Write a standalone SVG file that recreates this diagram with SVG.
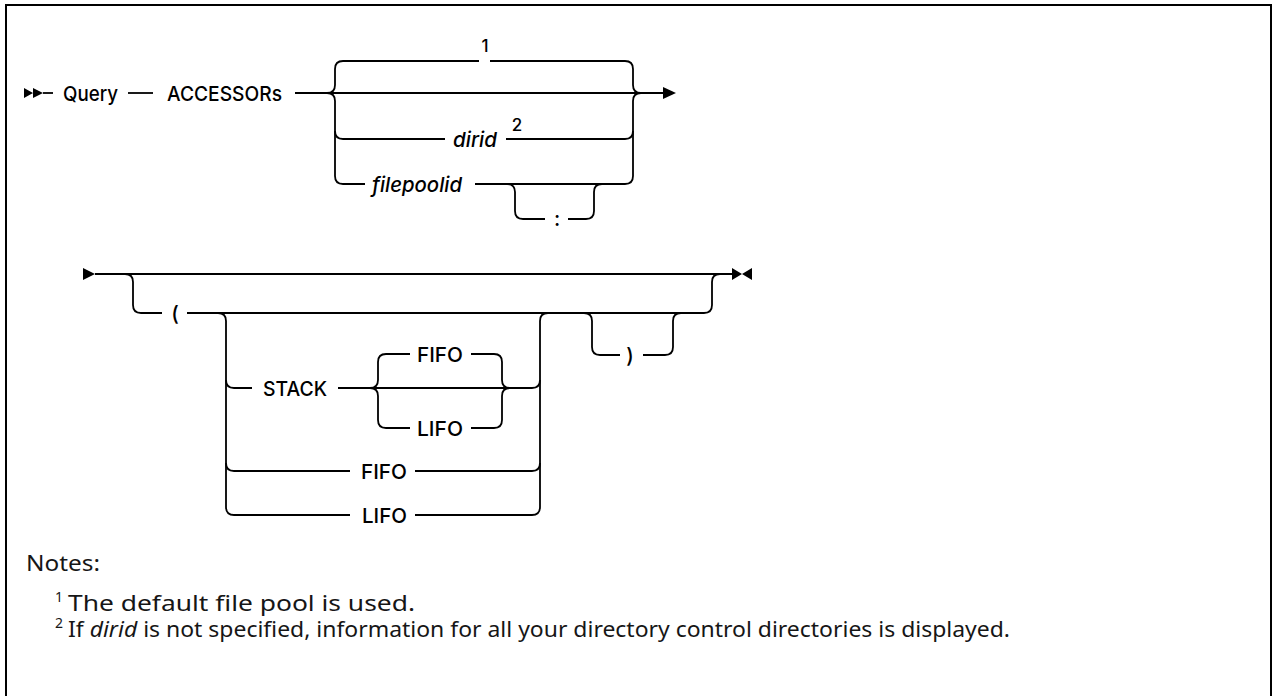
<svg xmlns="http://www.w3.org/2000/svg" width="1273" height="696" viewBox="0 0 1273 696">
<style>
.ln{fill:none;stroke:#000;stroke-width:1.8;stroke-linejoin:round}
.mk{fill:#000;stroke:none}
.lb{font-family:Inter,"Liberation Sans",Arial,sans-serif;font-size:20.5px;font-weight:500;fill:#000}
.it{font-style:italic}
.fn{font-family:Inter,"Liberation Sans",Arial,sans-serif;font-size:17px;font-weight:500;fill:#000}
.nt{font-family:"Noto Sans","Liberation Sans",sans-serif;font-size:21.5px;fill:#161616}
.ns{font-family:"Noto Sans","Liberation Sans",sans-serif;font-size:14px;fill:#161616}
</style>
<rect x="6" y="5" width="1265" height="720" fill="#fff" stroke="#000" stroke-width="2"/>
<g id="connectors">
<path class="mk" d="M24,88 L33,93 L24,98 Z M33,88 L43,93 L33,98 Z"/>
<path class="ln" d="M43,93 H53"/>
<path class="ln" d="M128,93 H153"/>
<path class="ln" d="M295,93 H663"/>
<path class="mk" d="M663,87 L676,93 L663,99 Z"/>
<path class="ln" d="M343,61 Q335,61 335,69 V85 Q335,93 327,93 Q335,93 335,101 V176 Q335,184 343,184"/>
<path class="ln" d="M335,131 Q335,139 343,139 H445"/>
<path class="ln" d="M343,61 H479 M490,61 H625 Q633,61 633,69 V85 Q633,93 641,93 Q633,93 633,101 V176 Q633,184 625,184"/>
<path class="ln" d="M506,139 H625 Q633,139 633,131"/>
<path class="ln" d="M343,184 H365 M475,184 H625"/>
<path class="ln" d="M507,184 Q515,184 515,192 V211 Q515,219 523,219 H545 M568,219 H586 Q594,219 594,211 V192 Q594,184 602,184"/>
<path class="mk" d="M83,268 L95,274 L83,280 Z"/>
<path class="ln" d="M95,274 H732"/>
<path class="ln" d="M125,274 Q133,274 133,282 V305 Q133,313 141,313 H162 M187,313 H704 Q712,313 712,305 V282 Q712,274 720,274"/>
<path class="ln" d="M218,313 Q226,313 226,321 V507 Q226,515 234,515 H350"/>
<path class="ln" d="M226,380 Q226,388 234,388 H252"/>
<path class="ln" d="M226,463 Q226,471 234,471 H350"/>
<path class="ln" d="M338,388 H532 Q540,388 540,380"/>
<path class="ln" d="M548,313 Q540,313 540,321 V507 Q540,515 532,515 H415"/>
<path class="ln" d="M415,471 H532 Q540,471 540,463"/>
<path class="ln" d="M410,354 H386 Q378,354 378,362 V380 Q378,388 370,388 Q378,388 378,396 V420 Q378,428 386,428 H410"/>
<path class="ln" d="M471,354 H494 Q502,354 502,362 V380 Q502,388 510,388 Q502,388 502,396 V420 Q502,428 494,428 H471"/>
<path class="ln" d="M584,313 Q592,313 592,321 V347 Q592,355 600,355 H620 M643,355 H665 Q673,355 673,347 V321 Q673,313 681,313"/>
<path class="mk" d="M732,268 L742,274 L732,280 Z M752,268 L742,274 L752,280 Z"/>
</g>
<g id="n-query"><text class="lb" x="63" y="100.5" textLength="55" lengthAdjust="spacingAndGlyphs">Query</text></g>
<g id="n-accessors"><text class="lb" x="167" y="100.5" textLength="115" lengthAdjust="spacingAndGlyphs">ACCESSORs</text></g>
<g id="n-note1ref"><text class="fn" x="485" y="52" text-anchor="middle">1</text></g>
<g id="n-dirid"><text class="lb it" x="453" y="146.5" textLength="44" lengthAdjust="spacingAndGlyphs">dirid</text><text class="fn" x="517" y="131" text-anchor="middle">2</text></g>
<g id="n-filepoolid"><text class="lb it" x="372" y="191.5" textLength="90" lengthAdjust="spacingAndGlyphs">filepoolid</text></g>
<g id="n-colon"><text class="lb" x="557" y="226" text-anchor="middle" font-size="21">:</text></g>
<g id="n-lparen"><text class="lb" x="175" y="320.5" text-anchor="middle" font-size="21">(</text></g>
<g id="n-stack"><text class="lb" x="263" y="395.5" textLength="64" lengthAdjust="spacingAndGlyphs">STACK</text></g>
<g id="n-fifo1"><text class="lb" x="417" y="361.5" textLength="46" lengthAdjust="spacingAndGlyphs">FIFO</text></g>
<g id="n-lifo1"><text class="lb" x="417" y="435.5" textLength="46" lengthAdjust="spacingAndGlyphs">LIFO</text></g>
<g id="n-fifo2"><text class="lb" x="361" y="478.5" textLength="46" lengthAdjust="spacingAndGlyphs">FIFO</text></g>
<g id="n-lifo2"><text class="lb" x="362" y="522.5" textLength="45" lengthAdjust="spacingAndGlyphs">LIFO</text></g>
<g id="n-rparen"><text class="lb" x="630" y="362.5" text-anchor="middle" font-size="21">)</text></g>
<g id="notes">
<text class="nt" x="26" y="571" textLength="74" lengthAdjust="spacingAndGlyphs">Notes:</text>
<text class="ns" x="55" y="602">1</text>
<text class="nt" x="68" y="611" textLength="347" lengthAdjust="spacingAndGlyphs">The default file pool is used.</text>
<text class="ns" x="55" y="628">2</text>
<text class="nt" x="68" y="637" textLength="942" lengthAdjust="spacingAndGlyphs">If <tspan font-style="italic">dirid</tspan> is not specified, information for all your directory control directories is displayed.</text>
</g>
</svg>
